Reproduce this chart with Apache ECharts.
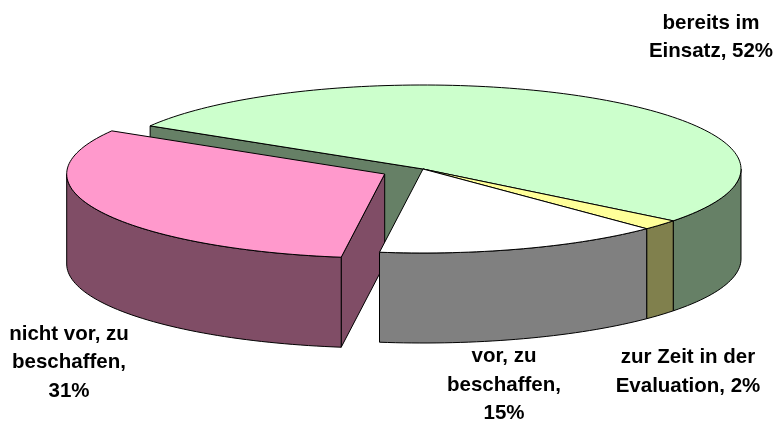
<!DOCTYPE html>
<html>
<head>
<meta charset="utf-8">
<title>Pie</title>
<script src="https://cdn.jsdelivr.net/npm/echarts@6/dist/echarts.min.js"></script>
<style>
  html, body { margin: 0; padding: 0; background: #fff; }
  #chart { width: 776px; height: 423px; }
</style>
</head>
<body>
<div id="chart"></div>
<script>
const categories = ['bereits im Einsatz', 'zur Zeit in der Evaluation', 'vor, zu beschaffen', 'nicht vor, zu beschaffen'];
const values = [52, 2, 14.6, 31.4];
const labelTexts = ['bereits im\nEinsatz, 52%', 'zur Zeit in der\nEvaluation, 2%', 'vor, zu\nbeschaffen,\n15%', 'nicht vor, zu\nbeschaffen,\n31%'];
const topColors = ['#CCFFCC', '#FFFF99', '#FFFFFF', '#FF99CC'];
const sideColors = ['#668066', '#80804D', '#808080', '#804D66'];

// pie geometry, angles are clockwise from the back of the pie
const CX = 423, CY = 169, RX = 318, RY = 84, DEPTH = 90;
const FIRST_ANGLE = 300.9;
const offsets = [[0, 0], [0, 0], [0, 0], [-38.3, 5]];
const paintOrder = [0, 2, 3, 1];
const labelAnchors = [[711, 37.5], [688, 372], [504, 385], [69, 362.5]];

const total = values.reduce((a, b) => a + b, 0);
const slices = [];
let angle = FIRST_ANGLE;
values.forEach(v => {
  slices.push({ start: angle, end: angle + v / total * 360 });
  angle += v / total * 360;
});

function rim(deg, off, drop) {
  const r = deg * Math.PI / 180;
  return [CX + off[0] + RX * Math.sin(r), CY + off[1] + drop - RY * Math.cos(r)];
}

function arc(from, to, off, drop) {
  const pts = [];
  const n = Math.max(2, Math.ceil((to - from) / 1.5));
  for (let i = 0; i <= n; i++) pts.push(rim(from + (to - from) * i / n, off, drop));
  return pts;
}

function face(points, fill, z2) {
  return {
    type: 'polygon',
    z2: z2,
    shape: { points: points },
    style: { fill: fill, stroke: '#000', lineWidth: 1, lineJoin: 'round' }
  };
}

function renderSlice(params) {
  const i = params.dataIndex;
  const s = slices[i];
  const off = offsets[i];
  const side = sideColors[i];
  const z = paintOrder[i] * 10;
  const apex = [CX + off[0], CY + off[1]];
  const apexLow = [apex[0], apex[1] + DEPTH];
  const children = [];

  // radial cut face at the start, only when it looks towards the viewer
  if (Math.sin(s.start * Math.PI / 180) < 0) {
    children.push(face([apex, rim(s.start, off, 0), rim(s.start, off, DEPTH), apexLow], side, z + 1));
  }

  // outer wall: the front half of the rim, 90..270 degrees
  [[s.start, s.end], [s.start - 360, s.end - 360]].forEach(range => {
    const from = Math.max(range[0], 90);
    const to = Math.min(range[1], 270);
    if (to > from) {
      const upper = arc(from, to, off, 0);
      const lower = arc(from, to, off, DEPTH).reverse();
      children.push(face(upper.concat(lower), side, z + 2));
    }
  });

  children.push(face([apex].concat(arc(s.start, s.end, off, 0)), topColors[i], z + 3));
  return { type: 'group', children: children };
}

function renderLabel(params) {
  const i = params.dataIndex;
  return {
    type: 'text',
    z2: 100,
    style: {
      text: labelTexts[i],
      x: labelAnchors[i][0],
      y: labelAnchors[i][1],
      align: 'center',
      verticalAlign: 'middle',
      fill: '#000',
      font: 'bold 20.5px "Liberation Sans", Arial, sans-serif',
      lineHeight: 28.5
    }
  };
}

const myChart = echarts.init(document.getElementById('chart'), null, { renderer: 'canvas' });
myChart.setOption({
  animation: false,
  backgroundColor: '#fff',
  series: [
    {
      type: 'custom',
      coordinateSystem: 'none',
      silent: true,
      renderItem: renderSlice,
      data: categories.map((name, i) => ({ name: name, value: values[i] }))
    },
    {
      type: 'custom',
      coordinateSystem: 'none',
      silent: true,
      renderItem: renderLabel,
      data: categories.map((name, i) => ({ name: name, value: values[i] }))
    }
  ]
});
</script>
</body>
</html>
